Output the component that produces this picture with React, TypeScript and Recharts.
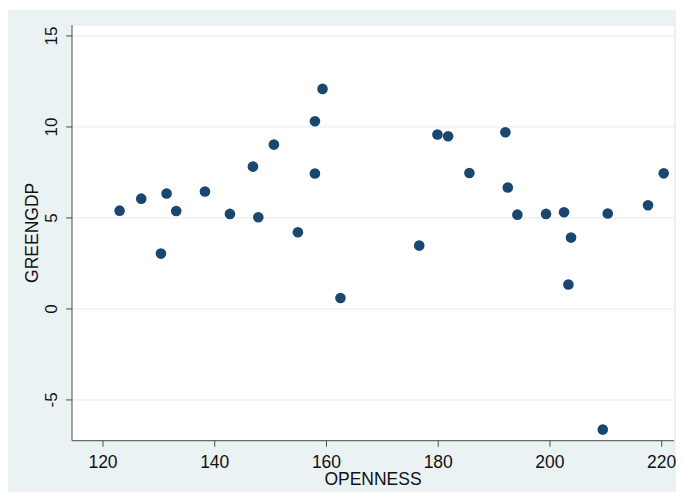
import { ScatterChart, Scatter, XAxis, YAxis, CartesianGrid, Label } from 'recharts'

const openness = [
  122.97, 126.85, 131.38, 133.1, 130.37, 138.25, 142.72, 147.8, 146.83, 150.59,
  154.88, 157.93, 157.93, 159.29, 162.5, 176.6, 179.86, 181.77, 185.58, 192.02,
  192.45, 194.17, 199.3, 202.52, 203.77, 203.3, 210.34, 209.45, 217.55, 220.36,
]
const greengdp = [
  5.4, 6.06, 6.34, 5.38, 3.04, 6.45, 5.22, 5.04, 7.82, 9.03,
  4.21, 10.31, 7.44, 12.09, 0.6, 3.48, 9.58, 9.49, 7.47, 9.71,
  6.67, 5.18, 5.22, 5.31, 3.92, 1.34, 5.24, -6.63, 5.7, 7.45,
]
const xTicks = [120, 140, 160, 180, 200, 220]
const yTicks = [-5, 0, 5, 10, 15]

const data = openness.map((x, i) => ({ openness: x, greengdp: greengdp[i] }))

const FONT = '"Liberation Sans", Arial, sans-serif'
const AXIS = '#4d4d4d'
const DOT = '#1a476f'

const YTick = ({ x, y, payload }: any) => (
  <text
    x={x}
    y={y}
    transform={`rotate(-90, ${x}, ${y})`}
    textAnchor="middle"
    fontSize={17}
    fontFamily={FONT}
    fill="#111"
  >
    {payload.value}
  </text>
)

const Dot = ({ cx, cy }: any) => <circle cx={cx} cy={cy} r={5.3} fill={DOT} />

export default function App() {
  return (
    <div style={{ marginTop: 2, width: 676, height: 482, background: '#eaf2f3' }}>
      <ScatterChart width={676} height={482} margin={{ top: 15, right: 10, bottom: 0, left: 0 }}>
        <CartesianGrid vertical={false} stroke="#e3ebee" fill="#fff" />
        <XAxis
          type="number"
          dataKey="openness"
          domain={[114.45, 222.2]}
          ticks={xTicks}
          allowDataOverflow
          height={51.3}
          tickSize={6}
          tickMargin={9}
          stroke={AXIS}
          tick={{ fontSize: 17.5, fontFamily: FONT, fill: '#111' }}
        >
          <Label
            value="OPENNESS"
            position="insideBottom"
            offset={7}
            style={{ fontSize: 17.5, fontFamily: FONT, fill: '#111' }}
          />
        </XAxis>
        <YAxis
          type="number"
          dataKey="greengdp"
          domain={[-7.24, 15.6]}
          ticks={yTicks}
          allowDataOverflow
          width={64}
          tickSize={6}
          tickMargin={9}
          stroke={AXIS}
          tick={<YTick />}
        >
          <Label
            value="GREENGDP"
            position="insideLeft"
            angle={-90}
            offset={23.5}
            style={{ fontSize: 17.5, fontFamily: FONT, fill: '#111', textAnchor: 'middle' }}
          />
        </YAxis>
        <Scatter data={data} shape={<Dot />} isAnimationActive={false} />
      </ScatterChart>
    </div>
  )
}
